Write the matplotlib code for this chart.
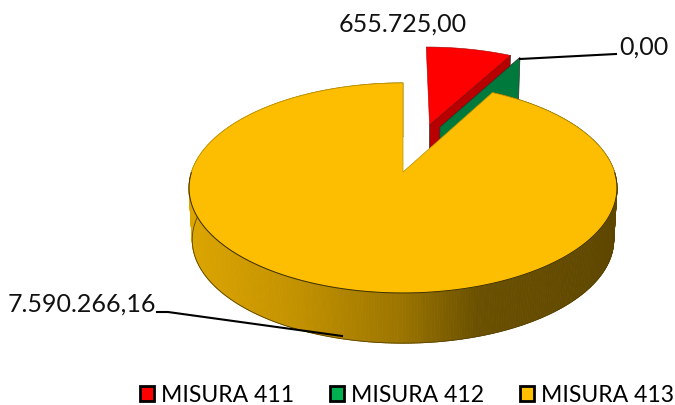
import matplotlib
matplotlib.use('Agg')
import matplotlib.pyplot as plt
import numpy as np
from matplotlib.colors import LinearSegmentedColormap
from matplotlib.collections import PolyCollection
from matplotlib.patches import Patch

plt.rcParams['font.family'] = ['Lato', 'DejaVu Sans']

names = ["MISURA 411", "MISURA 412", "MISURA 413"]
values = [655725.00, 0.00, 7590266.16]
value_labels = ["655.725,00", "0,00", "7.590.266,16"]
top_colors = ["#ff0000", "#00b050", "#fdbd00"]
wall_colors = ["#b80000", "#007a3c", "#c09000"]

# projection of the tilted disc, in pixels
cx, cy = 403, 172
A, B, k = 102.6, 211.5, 0.152
depth, shrink = 52, 0.985
# how far the slices are pulled out of the pie (u, v in disc units)
explode = [(0.135, 0.495), (0.187, 0.469), (0, 0)]


def project(t, r, off, low=False):
    u = off[0] + r * np.sin(t)
    v = off[1] + r * np.cos(t)
    w = 1 + k * v
    s = shrink if low else 1
    d = depth if low else 0
    return cx + s * B * u / w, cy + d - s * A * v / w


def top_outline(t0, t1, off):
    t = np.linspace(t0, t1, 200)
    x, y = project(t, 1, off)
    ax0, ay0 = project(0, 0, off)
    return np.r_[ax0, x], np.r_[ay0, y]


fig = plt.figure(figsize=(6.75, 4.05), dpi=100)
ax = fig.add_axes([0, 0, 1, 1])
ax.set_xlim(0, 675)
ax.set_ylim(405, 0)
ax.axis('off')

edges = np.cumsum([0] + values) / sum(values) * 2 * np.pi

# red and green slices, back to front
for i in [0, 1]:
    t = edges[i + 1]
    off = explode[i]
    xa, ya = project(0, 0, off)
    xo, yo = project(t, 1, off)
    xa2, ya2 = project(0, 0, off, True)
    xo2, yo2 = project(t, 1, off, True)
    ax.fill([xa, xo, xo2, xa2], [ya, yo, yo2, ya2], color=wall_colors[i],
            ec="#303030", lw=0.5, zorder=2 + i)
    if values[i] > 0:
        x, y = top_outline(edges[i], t, off)
        ax.fill(x, y, color=top_colors[i], ec="#a00000", lw=0.4, zorder=2 + i)

# yellow side wall with the left to right shading
wall_cmap = LinearSegmentedColormap.from_list("wall", [
    (0.0, "#dca500"), (0.25, "#c39200"), (0.5, "#9c7500"),
    (0.68, "#6a5000"), (1.0, "#5f4700")])
t = np.linspace(edges[2], edges[3], 500)
x1, y1 = project(t, 1, explode[2])
x2, y2 = project(t, 1, explode[2], True)
quads = [[(x1[i], y1[i]), (x1[i + 1], y1[i + 1]), (x2[i + 1], y2[i + 1]), (x2[i], y2[i])]
         for i in range(len(t) - 1)]
shade = wall_cmap((x1[:-1] - 188) / (616 - 188))
ax.add_collection(PolyCollection(quads, facecolors=shade, edgecolors=shade, linewidths=0.6, zorder=4))
ax.plot(x2, y2, color="#5a4300", lw=0.6, zorder=5)

# yellow top, only the front rim gets the dark line
x, y = top_outline(edges[2], edges[3], explode[2])
ax.fill(np.r_[x, x[0]], np.r_[y, y[0]], color=top_colors[2], ec="#b89000", lw=0.5, zorder=6)
front = (t > np.pi / 2) & (t < 3 * np.pi / 2)
ax.plot(x1[front], y1[front], color="#3f3000", lw=0.7, zorder=7)

# leader lines and data labels
ax.plot([520, 616], [59, 54], color="black", lw=1.5, zorder=7)
ax.plot([157, 168, 342], [312, 312, 336], color="black", lw=1.5, zorder=7)
ax.text(403, 24, value_labels[0], ha='center', va='center', fontsize=18, color="#111111")
ax.text(644, 47, value_labels[1], ha='center', va='center', fontsize=18, color="#111111")
ax.text(82, 304, value_labels[2], ha='center', va='center', fontsize=18, color="#111111")

handles = [Patch(facecolor=c, edgecolor="black", linewidth=2) for c in ["#ff0000", "#00b050", "#ffc000"]]
ax.legend(handles, names, ncol=3, loc='center', bbox_to_anchor=(407 / 675, 1 - 395 / 405),
          frameon=False, fontsize=16.6, handlelength=0.62, handleheight=0.62,
          handletextpad=0.3, columnspacing=1.55, borderpad=0, labelspacing=0)

plt.savefig("out.png", dpi=100)
